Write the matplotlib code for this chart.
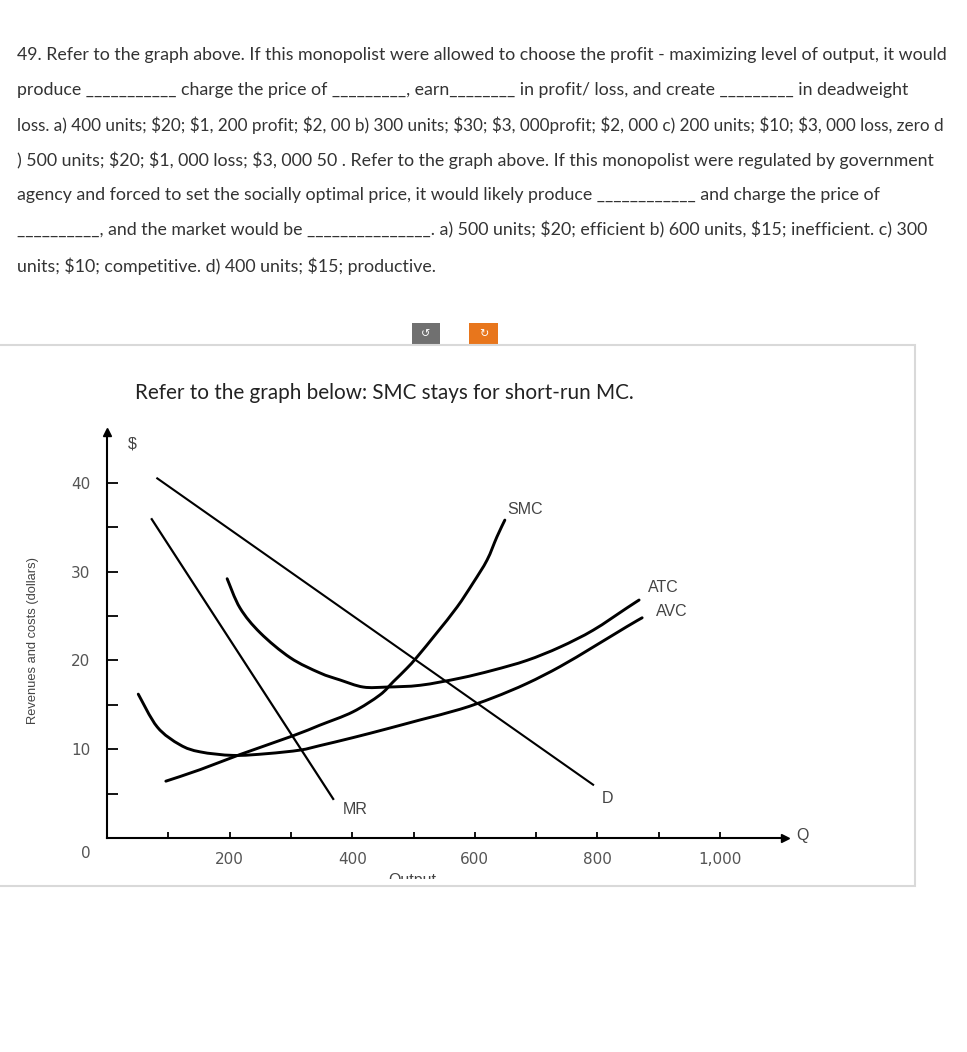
import matplotlib
matplotlib.use("Agg")
import matplotlib.pyplot as plt
from matplotlib.patches import Rectangle, PathPatch
from matplotlib.path import Path
from matplotlib.transforms import Bbox

plt.rcParams['text.parse_math'] = False

W, H = 967, 1052

# question text above the chart, one entry per printed line
question_lines = [
    "49. Refer to the graph above. If this monopolist were allowed to choose the profit - maximizing level of output, it would",
    "produce ___________ charge the price of _________, earn________ in profit/ loss, and create _________ in deadweight",
    "loss. a) 400 units; $20; $1, 200 profit; $2, 00 b) 300 units; $30; $3, 000profit; $2, 000 c) 200 units; $10; $3, 000 loss, zero d",
    ") 500 units; $20; $1, 000 loss; $3, 000 50 . Refer to the graph above. If this monopolist were regulated by government",
    "agency and forced to set the socially optimal price, it would likely produce ____________ and charge the price of",
    "__________, and the market would be _______________. a) 500 units; $20; efficient b) 600 units, $15; inefficient. c) 300",
    "units; $10; competitive. d) 400 units; $15; productive.",
]
line_y = [55, 90, 125, 160, 195, 230, 266]
line_size = [12.8, 12.8, 12.35, 12.8, 12.8, 12.8, 12.8]

title = "Refer to the graph below: SMC stays for short-run MC."

# curves: output (Q) and dollars
demand_q = [82, 793]
demand_p = [40.5, 6.0]
mr_q = [73, 369]
mr_p = [35.9, 4.4]
smc_q = [96, 152, 217, 303, 347, 401, 445, 467, 489, 506, 538, 571, 597, 620, 636, 649]
smc_p = [6.4, 7.7, 9.4, 11.5, 12.7, 14.2, 16.1, 17.6, 19.1, 20.4, 23.1, 26.0, 28.7, 31.3, 33.9, 35.8]
atc_q = [196, 217, 250, 299, 347, 380, 418, 457, 511, 576, 630, 685, 739, 793, 848, 868]
atc_p = [29.2, 25.9, 23.1, 20.3, 18.6, 17.8, 17.0, 17.0, 17.2, 18.0, 18.9, 20.0, 21.5, 23.4, 25.9, 26.8]
avc_q = [51, 82, 119, 152, 206, 261, 315, 347, 401, 457, 511, 576, 630, 685, 739, 793, 848, 873]
avc_p = [16.2, 12.5, 10.5, 9.7, 9.3, 9.5, 9.9, 10.4, 11.3, 12.3, 13.3, 14.5, 15.8, 17.4, 19.3, 21.5, 23.8, 24.8]

x_ticks = [100, 200, 300, 400, 500, 600, 700, 800, 900, 1000]
x_labels = ["", "200", "", "400", "", "600", "", "800", "", "1,000"]
y_ticks = [5, 10, 15, 20, 25, 30, 35, 40]
y_labels = ["", "10", "", "20", "", "30", "", "40"]


def smooth_path(xs, ys):
    # bezier curve that passes through every read point (catmull-rom style handles)
    pts = list(zip(xs, ys))
    verts = [pts[0]]
    codes = [Path.MOVETO]
    n = len(pts)
    for i in range(n - 1):
        p0 = pts[i - 1] if i > 0 else pts[i]
        p1 = pts[i]
        p2 = pts[i + 1]
        p3 = pts[i + 2] if i + 2 < n else pts[i + 1]
        c1 = (p1[0] + (p2[0] - p0[0]) / 6, p1[1] + (p2[1] - p0[1]) / 6)
        c2 = (p2[0] - (p3[0] - p1[0]) / 6, p2[1] - (p3[1] - p1[1]) / 6)
        verts += [c1, c2, p2]
        codes += [Path.CURVE4] * 3
    return Path(verts, codes)


fig = plt.figure(figsize=(W / 100, H / 100), dpi=100)
fig.patch.set_facecolor("white")


def fx(x):
    return x / W


def fy(y):
    return 1 - y / H


for txt, y, size in zip(question_lines, line_y, line_size):
    fig.text(fx(17), fy(y), txt, family="Lato", fontsize=size, color="#333333",
             ha="left", va="center")

# the two little buttons above the box
fig.patches.append(Rectangle((fx(412), fy(345)), fx(28), 22 / H, transform=fig.transFigure,
                             facecolor="#707070", edgecolor="none"))
fig.patches.append(Rectangle((fx(469), fy(345)), fx(29), 22 / H, transform=fig.transFigure,
                             facecolor="#e8761c", edgecolor="none"))
fig.text(fx(426), fy(334), "↺", color="white", fontsize=8, ha="center", va="center")
fig.text(fx(483.5), fy(334), "↻", color="white", fontsize=8, ha="center", va="center")

# light frame around the picture
fig.patches.append(Rectangle((fx(-5), fy(886)), fx(920), 541 / H, transform=fig.transFigure,
                             facecolor="none", edgecolor="#d9d9d9", lw=1.5))

fig.text(fx(135), fy(393), title, family="Lato", fontsize=14.9, color="#222222",
         ha="left", va="center")

# axes: 0.613 px per unit of output, 8.88 px per dollar
ax = fig.add_axes([fx(107), fy(838), 0.613 * 1106 / W, 8.88 * 45.7 / H])
ax.set_xlim(0, 1106)
ax.set_ylim(0, 45.7)
ax.patch.set_alpha(0)
for s in ["top", "right"]:
    ax.spines[s].set_visible(False)
for s in ["left", "bottom"]:
    ax.spines[s].set_linewidth(1.5)
ax.plot(1, 0, ">k", ms=6, transform=ax.get_yaxis_transform(), clip_on=False)
ax.plot(0, 1, "^k", ms=6, transform=ax.get_xaxis_transform(), clip_on=False)

ax.set_xticks(x_ticks)
ax.set_xticklabels(x_labels)
ax.set_yticks(y_ticks)
ax.set_yticklabels(y_labels)
ax.tick_params(axis="y", direction="in", length=8, width=1.3, pad=12,
               labelsize=11, labelcolor="#555555")
ax.tick_params(axis="x", direction="in", length=4, width=1.3, pad=10,
               labelsize=11, labelcolor="#555555")

ax.plot(demand_q, demand_p, color="black", lw=1.5)
ax.plot(mr_q, mr_p, color="black", lw=1.6)
for xs, ys in [(smc_q, smc_p), (atc_q, atc_p), (avc_q, avc_p)]:
    ax.add_patch(PathPatch(smooth_path(xs, ys), facecolor="none", edgecolor="black",
                           lw=2.1, capstyle="round"))

lab = dict(family="Liberation Sans", fontsize=11.5, color="#444444", ha="center", va="center")
ax.text(682, 37.0, "SMC", **lab)
ax.text(907, 28.2, "ATC", **lab)
ax.text(922, 25.5, "AVC", **lab)
ax.text(405, 3.2, "MR", **lab)
ax.text(816, 4.5, "D", **lab)
ax.text(42, 44.4, "$", **lab)
ax.text(1134, 0.3, "Q", **lab)
ax.text(-34, -1.8, "0", family="DejaVu Sans", fontsize=11, color="#555555",
        ha="center", va="center")

fig.text(fx(33), fy(641), "Revenues and costs (dollars)", family="Liberation Sans",
         fontsize=9.3, color="#444444", rotation=90, ha="center", va="center")

# axis title is cut off at the bottom in the original
out = fig.text(fx(412), fy(873), "Output", family="Liberation Sans", fontsize=11.5,
               color="#444444", ha="center", va="top")
out.set_clip_box(Bbox([[0, H - 879], [W, H]]))

fig.savefig("out.png", dpi=100)
